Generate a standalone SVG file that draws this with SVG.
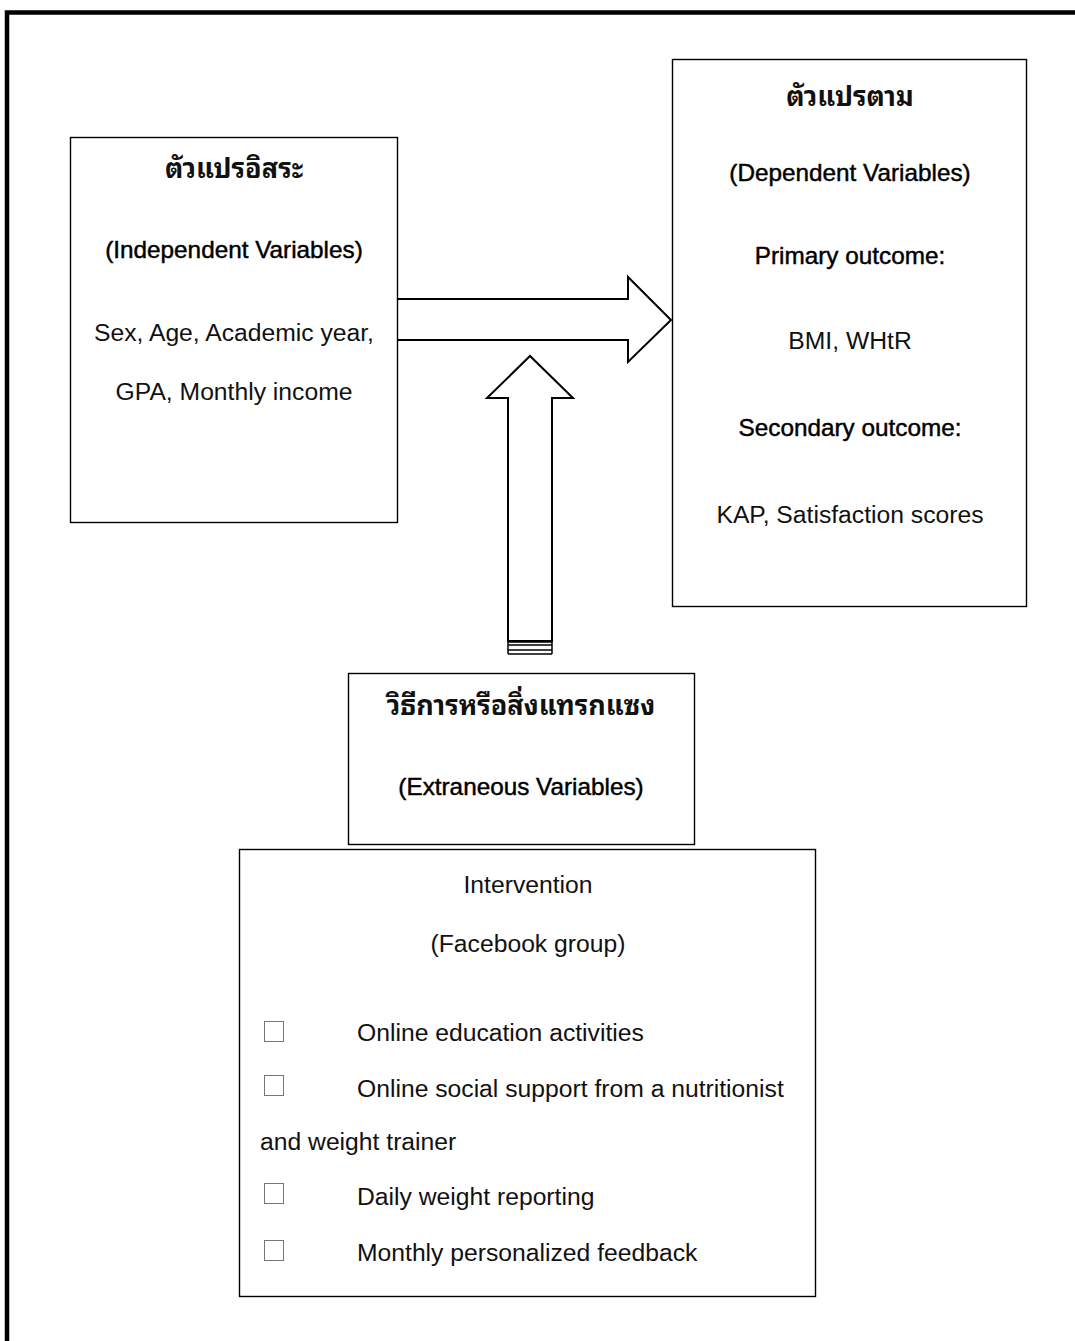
<svg xmlns="http://www.w3.org/2000/svg" width="1075" height="1341" viewBox="0 0 1075 1341">
<style>
.box{fill:#fff;stroke:#000;stroke-width:1.4}
.arr{fill:#fff;stroke:#000;stroke-width:2;stroke-linejoin:miter}
.t{font-family:"Liberation Sans",Arial,sans-serif;font-size:24.7px;fill:#111;text-anchor:middle}
.b{font-family:"Liberation Sans",Arial,sans-serif;font-size:24.3px;fill:#000;stroke:#000;stroke-width:0.45;text-anchor:middle}
.th{font-family:"Noto Sans Thai Looped","Noto Serif Thai","Norasi","Garuda","Loma","Noto Sans Thai","Tlwg Typo","DejaVu Sans",sans-serif;font-size:27px;font-weight:bold;fill:#111;text-anchor:middle}
.l{font-family:"Liberation Sans",Arial,sans-serif;font-size:24.7px;fill:#111}
.cb{fill:#fff;stroke:#777;stroke-width:1}
</style>
<rect x="7" y="12.5" width="1200" height="1400" fill="none" stroke="#000" stroke-width="4.5"/>
<g id="connectors">
<polygon class="arr" points="397,299 628,299 628,277 671,320 628,362 628,340 397,340"/>
<polygon class="arr" points="508,641 508,398 487,398 530,356 573,398 552,398 552,641"/>
<g stroke="#000" stroke-width="1.5">
<line x1="508" y1="642" x2="552" y2="642"/>
<line x1="508" y1="645" x2="552" y2="645"/>
<line x1="508" y1="650" x2="552" y2="650"/>
<line x1="508" y1="654" x2="552" y2="654"/>
<line x1="508" y1="641" x2="508" y2="654"/>
<line x1="552" y1="641" x2="552" y2="654"/>
</g>
</g>
<g id="independent">
<rect class="box" x="70.5" y="137.5" width="327" height="385"/>
<text class="th" x="234" y="178">ตัวแปรอิสระ</text>
<text class="b" x="234" y="258">(Independent Variables)</text>
<text class="t" x="234" y="341">Sex, Age, Academic year,</text>
<text class="t" x="234" y="400">GPA, Monthly income</text>
</g>
<g id="dependent">
<rect class="box" x="672.5" y="59.5" width="354" height="547"/>
<text class="th" x="850" y="106">ตัวแปรตาม</text>
<text class="b" x="850" y="181">(Dependent Variables)</text>
<text class="b" x="850" y="264">Primary outcome:</text>
<text class="t" x="850" y="349">BMI, WHtR</text>
<text class="b" x="850" y="436">Secondary outcome:</text>
<text class="t" x="850" y="523">KAP, Satisfaction scores</text>
</g>
<g id="extraneous">
<rect class="box" x="348.5" y="673.5" width="346" height="171"/>
<text class="th" x="521" y="715">วิธีการหรือสิ่งแทรกแซง</text>
<text class="b" x="521" y="795">(Extraneous Variables)</text>
</g>
<g id="intervention">
<rect class="box" x="239.5" y="849.5" width="576" height="447"/>
<text class="t" x="528" y="893">Intervention</text>
<text class="t" x="528" y="952">(Facebook group)</text>
<rect class="cb" x="264.5" y="1021.5" width="19" height="20"/>
<text class="l" x="357" y="1041">Online education activities</text>
<rect class="cb" x="264.5" y="1075.5" width="19" height="20"/>
<text class="l" x="357" y="1097">Online social support from a nutritionist</text>
<text class="l" x="260" y="1150">and weight trainer</text>
<rect class="cb" x="264.5" y="1183.5" width="19" height="20"/>
<text class="l" x="357" y="1205">Daily weight reporting</text>
<rect class="cb" x="264.5" y="1240.5" width="19" height="20"/>
<text class="l" x="357" y="1261">Monthly personalized feedback</text>
</g>
</svg>
